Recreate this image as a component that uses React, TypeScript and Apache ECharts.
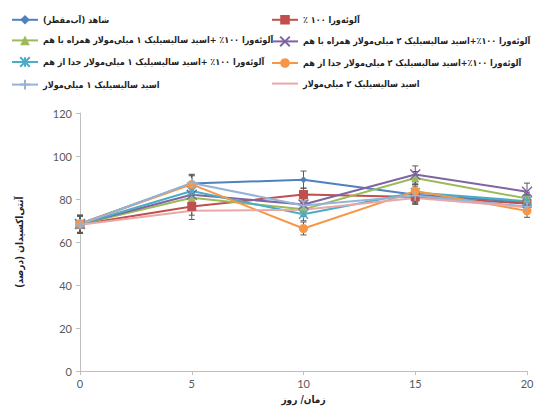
import React, { useEffect, useRef } from "react";
import * as echarts from "echarts";

const days = [0, 5, 10, 15, 20];
const seriesNames = [
  "شاهد (آب‌مقطر)",
  "آلوئه‌ورا ۱۰۰ ٪",
  "آلوئه‌ورا ۱۰۰٪ +اسید سالیسیلیک ۱ میلی‌مولار همراه با هم",
  "آلوئه‌ورا ۱۰۰٪+اسید سالیسیلیک ۲ میلی‌مولار همراه با هم",
  "آلوئه‌ورا ۱۰۰٪ +اسید سالیسیلیک ۱ میلی‌مولار جدا از هم",
  "آلوئه‌ورا ۱۰۰٪+اسید سالیسیلیک ۲ میلی‌مولار جدا از هم",
  "اسید سالیسیلیک ۱ میلی‌مولار",
  "اسید سالیسیلیک ۲ میلی‌مولار",
];
const xAxisTitle = "زمان/ روز";
const yAxisTitle = "آنتی‌اکسیدان (درصد)";
const control = [68.5, 87.2, 89.0, 82.0, 78.5];
const aloe = [68.2, 76.5, 82.1, 81.0, 77.9];
const aloeSa1Together = [68.3, 80.6, 75.2, 89.8, 80.2];
const aloeSa2Together = [68.4, 82.0, 77.5, 91.4, 83.4];
const aloeSa1Separate = [68.3, 83.7, 72.9, 83.0, 79.0];
const aloeSa2Separate = [68.5, 86.8, 66.3, 83.7, 74.5];
const sa1 = [68.2, 87.5, 77.0, 81.5, 76.5];
const sa2 = [68.0, 74.5, 75.0, 80.5, 76.2];
const errControl = [4, 4, 4, 3, 3];
const errAloe = [4, 4, 3, 3, 3];
const errAloeSa1Together = [4, 3, 3, 3, 3];
const errAloeSa2Together = [4, 3, 3, 4, 4];
const errAloeSa1Separate = [4, 3, 3, 3, 3];
const errAloeSa2Separate = [4, 4, 3, 3, 3];
const errSa1 = [4, 4, 3, 3, 3];
const errSa2 = [4, 4, 3, 3, 3];
const yTicks = { min: 0, max: 120, interval: 20 };
const xTicks = { min: 0, max: 20, interval: 5 };

const allValues = [control, aloe, aloeSa1Together, aloeSa2Together, aloeSa1Separate, aloeSa2Separate, sa1, sa2];
const allErrors = [errControl, errAloe, errAloeSa1Together, errAloeSa2Together, errAloeSa1Separate, errAloeSa2Separate, errSa1, errSa2];
const colors = ["#4F81BD", "#C0504D", "#9BBB59", "#8064A2", "#4BACC6", "#F79646", "#95B3D7", "#E6A9A8"];
const symbols = [
  "diamond",
  "rect",
  "triangle",
  "path://M0,0L10,10M10,0L0,10",
  "path://M0,0L10,10M10,0L0,10M5,0L5,10",
  "circle",
  "path://M5,0L5,10M0,5L10,5",
  "none",
];
const symbolSizes = [7, 9, 8, 10, 9, 9, 10, 0];

const rlm = (s: string) => "\u200F" + s + "\u200F";

export default function App() {
  const ref = useRef<HTMLDivElement>(null);
  useEffect(() => {
    if (!ref.current) return;
    const chart = echarts.init(ref.current, null, { renderer: "svg" });
    const arabicFont = "'DejaVu Sans Condensed', 'DejaVu Sans'";
    const names = seriesNames.map(rlm);
    const lineSeries = names.map((name, i) => ({
      name,
      type: "line",
      data: days.map((d, j) => [d, allValues[i][j]]),
      symbol: symbols[i] === "none" ? "circle" : symbols[i],
      symbolSize: symbolSizes[i],
      showSymbol: symbols[i] !== "none",
      lineStyle: { color: colors[i], width: 2 },
      itemStyle: { color: colors[i], borderColor: colors[i], borderWidth: i === 3 || i === 4 || i === 6 ? 1.5 : 0 },
      z: 3,
    }));
    const errData: number[][] = [];
    allValues.forEach((vals, i) => {
      days.forEach((d, j) => {
        errData.push([d, vals[j] - allErrors[i][j], vals[j] + allErrors[i][j]]);
      });
    });
    const errSeries = {
      type: "custom",
      name: "err",
      data: errData,
      z: 2,
      renderItem: (params: any, api: any) => {
        const x = api.value(0);
        const lo = api.coord([x, api.value(1)]);
        const hi = api.coord([x, api.value(2)]);
        const w = 3;
        const style = { stroke: "#595959", lineWidth: 1 };
        return {
          type: "group",
          children: [
            { type: "line", shape: { x1: lo[0], y1: lo[1], x2: hi[0], y2: hi[1] }, style },
            { type: "line", shape: { x1: lo[0] - w, y1: lo[1], x2: lo[0] + w, y2: lo[1] }, style },
            { type: "line", shape: { x1: hi[0] - w, y1: hi[1], x2: hi[0] + w, y2: hi[1] }, style },
          ],
        };
      },
    };
    const legendText = { fontFamily: arabicFont, fontSize: 9, fontWeight: "bold", color: "#222" };
    const legendItem = (i: number) =>
      symbols[i] === "none" ? { name: names[i], itemStyle: { opacity: 0 } } : { name: names[i] };
    chart.setOption({
      animation: false,
      color: colors,
      legend: [
        {
          data: [0, 2, 4, 6].map(legendItem),
          orient: "vertical",
          left: 6,
          top: 10,
          itemGap: 11,
          itemWidth: 26,
          itemHeight: 12,
          textStyle: legendText,
        },
        {
          data: [1, 3, 5, 7].map(legendItem),
          orient: "vertical",
          left: 266,
          top: 10,
          itemGap: 11,
          itemWidth: 26,
          itemHeight: 12,
          textStyle: legendText,
        },
      ],
      grid: { left: 80, right: 10, top: 113, bottom: 36 },
      xAxis: {
        type: "value",
        min: xTicks.min,
        max: xTicks.max,
        interval: xTicks.interval,
        name: xAxisTitle,
        nameLocation: "middle",
        nameGap: 21,
        nameTextStyle: { fontFamily: arabicFont, fontSize: 10, fontWeight: "bold", color: "#222" },
        axisLine: { lineStyle: { color: "#BFBFBF" } },
        axisTick: { lineStyle: { color: "#BFBFBF" }, length: 4 },
        axisLabel: { fontFamily: "Lato", fontSize: 11, color: "#595959", margin: 7 },
        splitLine: { show: false },
      },
      yAxis: {
        type: "value",
        min: yTicks.min,
        max: yTicks.max,
        interval: yTicks.interval,
        name: rlm(yAxisTitle),
        nameLocation: "middle",
        nameGap: 56,
        nameTextStyle: { fontFamily: arabicFont, fontSize: 10, fontWeight: "bold", color: "#222" },
        axisLine: { show: true, lineStyle: { color: "#BFBFBF" } },
        axisTick: { show: true, lineStyle: { color: "#BFBFBF" }, length: 4 },
        axisLabel: { fontFamily: "Lato", fontSize: 11, color: "#595959", margin: 8 },
        splitLine: { show: false },
      },
      series: [...lineSeries, errSeries],
    });
    return () => chart.dispose();
  }, []);
  return <div ref={ref} style={{ width: 537, height: 409, position: "absolute", left: 0, top: 0 }} />;
}
